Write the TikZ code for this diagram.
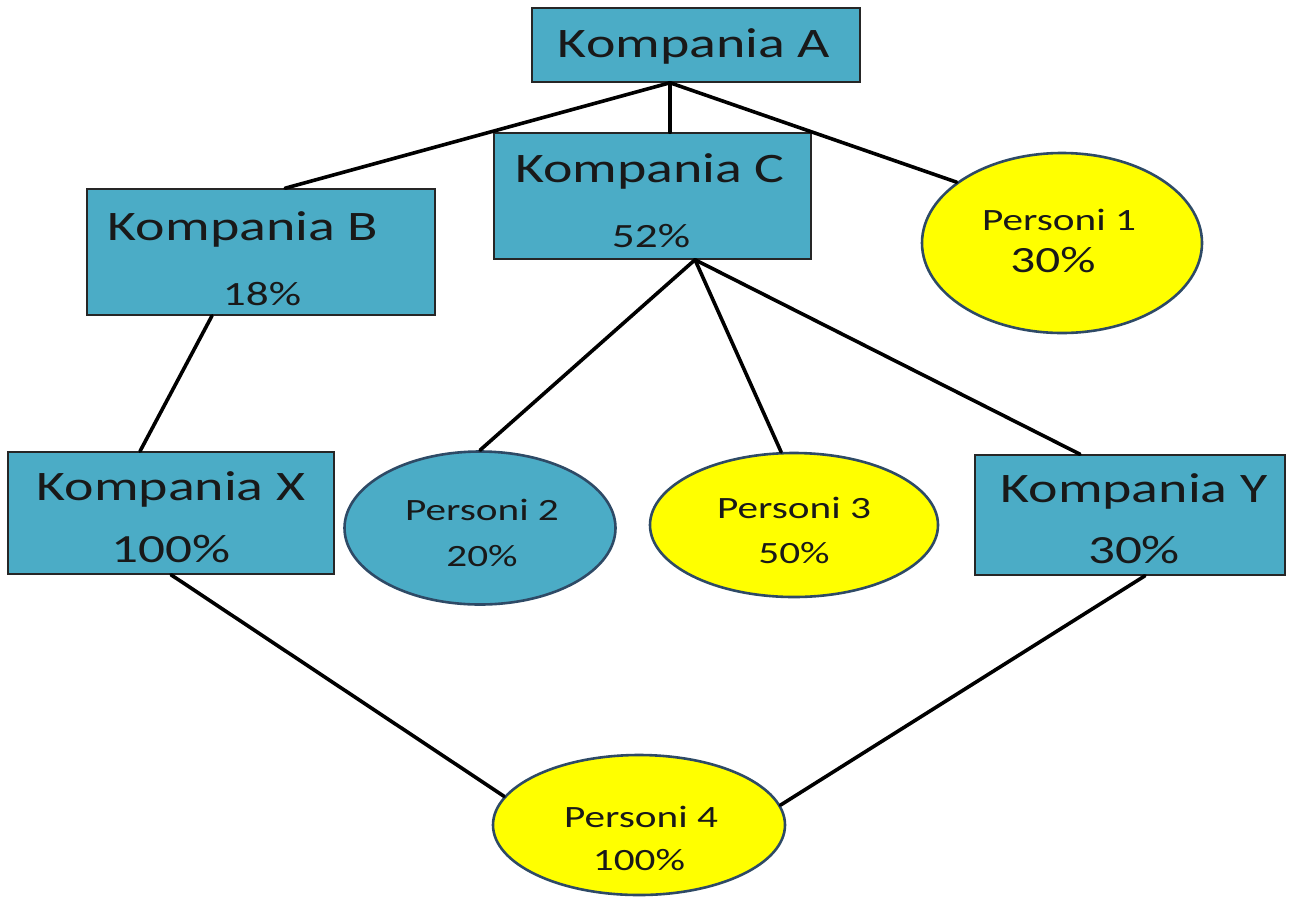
\documentclass[tikz,border=0pt]{standalone}
\usepackage{fontspec}
\setmainfont{Carlito}[FakeStretch=1.33]
\usetikzlibrary{shapes.geometric,calc}
\definecolor{boxblue}{HTML}{4BACC6}
\definecolor{ellborder}{HTML}{2E4A66}
\definecolor{yel}{HTML}{FFFF00}
\tikzset{
  compbox/.style={draw=black!85,line width=1.5pt,fill=boxblue,rectangle,inner sep=0pt},
  pers/.style={draw=ellborder,line width=2.6pt,ellipse,inner sep=0pt},
  persY/.style={pers,fill=yel},
  persB/.style={pers,fill=boxblue},
  lbl/.style={anchor=base,inner sep=0pt,text=black!90},
  big/.style={lbl,font=\fontsize{42}{48}\selectfont},
  mid/.style={lbl,font=\fontsize{40}{46}\selectfont},
  sml/.style={lbl,font=\fontsize{34}{40}\selectfont},
  tiny/.style={lbl,font=\fontsize{31}{36}\selectfont},
  link/.style={line width=3.6pt,black,line cap=round}
}
\begin{document}
\begin{tikzpicture}[x=1pt,y=-1pt]
\useasboundingbox (0,0) rectangle (1292,903);
\fill[white] (0,0) rectangle (1292,903);
% boxes
\node[compbox,minimum width=328pt,minimum height=74pt] (A) at (696,45) {};
\node[compbox,minimum width=348pt,minimum height=126pt] (B) at (261,252) {};
\node[compbox,minimum width=317pt,minimum height=126pt] (C) at (652.5,196) {};
\node[compbox,minimum width=326pt,minimum height=122pt] (X) at (171,513) {};
\node[compbox,minimum width=310pt,minimum height=120pt] (Y) at (1130,515) {};
% ellipses
\node[persY,minimum width=280pt,minimum height=180pt] (P1) at (1062,243) {};
\node[persB,minimum width=271pt,minimum height=153pt] (P2) at (480,528) {};
\node[persY,minimum width=288pt,minimum height=144pt] (P3) at (794,525) {};
\node[persY,minimum width=292pt,minimum height=140pt] (P4) at (639,825) {};
% texts
\node[big] (tA) at (694,57) {Kompania A};
\node[big] (tB) at (243,240) {Kompania B};
\node[sml] (tB2) at (262,305) {18\%};
\node[big] (tC) at (650,182) {Kompania C};
\node[sml] (tC2) at (651,247) {52\%};
\node[big] (tX) at (171,500) {Kompania X};
\node[mid] (tX2) at (171,562) {100\%};
\node[big] (tY) at (1134,502) {Kompania Y};
\node[mid] (tY2) at (1134,563) {30\%};
\node[tiny] (t1) at (1059,230) {Personi 1};
\node[lbl,font=\fontsize{37}{42}\selectfont] (t12) at (1053,272) {30\%};
\node[tiny] (t2) at (482,520) {Personi 2};
\node[tiny] (t22) at (482,566) {20\%};
\node[tiny] (t3) at (794,518) {Personi 3};
\node[tiny] (t32) at (794,563) {50\%};
\node[tiny] (t4) at (641,827) {Personi 4};
\node[tiny] (t42) at (639,870) {100\%};
% connectors
\draw[link] ($(A.south)+(-26,0)$) -- ($(B.north)+(24,0)$);
\draw[link] ($(A.south)+(-26,0)$) -- ($(C.north)+(17.5,0)$);
\draw[link] ($(A.south)+(-26,0)$) -- (P1.150);
\draw[link] ($(C.south)+(42.5,0)$) -- (P2.north);
\draw[link] ($(C.south)+(42.5,0)$) -- (P3.100);
\draw[link] ($(C.south)+(42.5,0)$) -- ($(Y.north)+(-50,0)$);
\draw[link] ($(B.south)+(-49,0)$) -- ($(X.north)+(-31,0)$);
\draw[link] (X.south) -- (P4.168);
\draw[link] ($(Y.south)+(15,0)$) -- (P4.8);
\end{tikzpicture}
\end{document}
